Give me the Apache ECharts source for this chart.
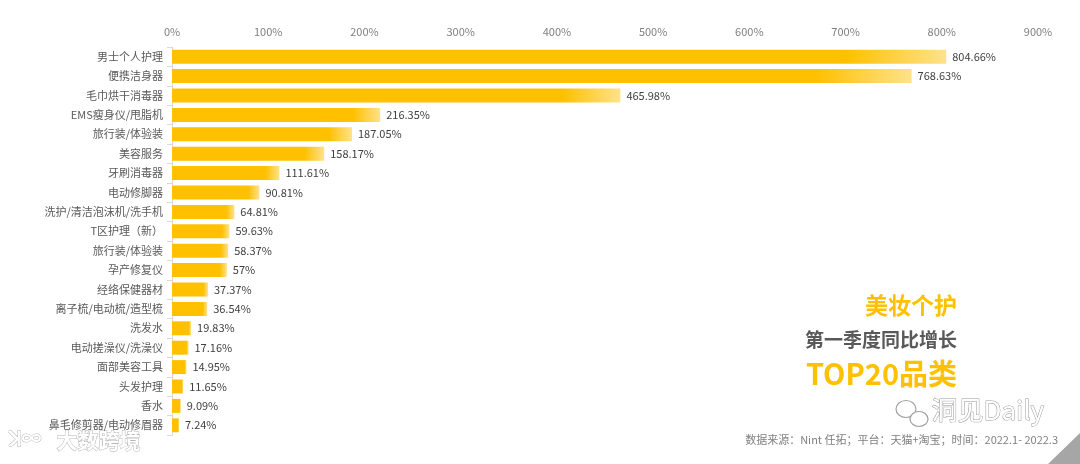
<!DOCTYPE html>
<html><head><meta charset="utf-8">
<script src="https://cdn.jsdelivr.net/npm/echarts@6/dist/echarts.min.js"></script>
<style>html,body{margin:0;padding:0;background:#fff}#c{width:1080px;height:464px}</style>
</head><body><div id="c"></div>
<script>
const categories = ["男士个人护理","便携洁身器","毛巾烘干消毒器","EMS瘦身仪/甩脂机","旅行装/体验装","美容服务","牙刷消毒器","电动修脚器","洗护/清洁泡沫机/洗手机","T区护理（新）","旅行装/体验装","孕产修复仪","经络保健器材","离子梳/电动梳/造型梳","洗发水","电动搓澡仪/洗澡仪","面部美容工具","头发护理","香水","鼻毛修剪器/电动修眉器"];
const values = [804.66,768.63,465.98,216.35,187.05,158.17,111.61,90.81,64.81,59.63,58.37,57,37.37,36.54,19.83,17.16,14.95,11.65,9.09,7.24];
const xTicks = [0,100,200,300,400,500,600,700,800,900];

const chart = echarts.init(document.getElementById('c'));
const FONT = '"Noto Sans CJK SC","Noto Sans",sans-serif';
const grad = new echarts.graphic.LinearGradient(0,0,1,0,[
  {offset:0,color:'#FFC000'},{offset:0.87,color:'#FFC000'},{offset:1,color:'#FFE28A'}]);
chart.setOption({
  animation:false,
  textStyle:{fontFamily:FONT},
  grid:{left:172,right:42,top:47,bottom:29,containLabel:false},
  xAxis:{type:'value',position:'top',min:xTicks[0],max:xTicks[xTicks.length-1],interval:100,
    axisLine:{show:false},axisTick:{show:false},splitLine:{show:false},
    axisLabel:{formatter:'{value}%',color:'#7F7F7F',fontSize:11,margin:10,fontFamily:FONT}},
  yAxis:{type:'category',data:categories,inverse:true,
    axisLine:{show:true,lineStyle:{color:'#D9D9D9'}},
    axisTick:{show:true,length:5,lineStyle:{color:'#D9D9D9'}},
    axisLabel:{color:'#595959',fontSize:11,margin:9,fontFamily:FONT}},
  series:[{type:'bar',data:values,barCategoryGap:'28%',
    itemStyle:{color:grad},
    label:{show:true,position:'right',distance:6,formatter:p=>p.value+'%',color:'#404040',fontSize:11,fontFamily:FONT}}],
  graphic:[
    {type:'text',right:123,top:294,style:{text:'美妆个护',fill:'#FFC000',font:'bold 23px '+FONT,textAlign:'right'}},
    {type:'text',right:123,top:330,style:{text:'第一季度同比增长',fill:'#595959',font:'bold 19px '+FONT,textAlign:'right'}},
    {type:'text',right:123,top:359,style:{text:'TOP20品类',fill:'#FFC000',font:'bold 29px '+FONT,textAlign:'right'}},
    {type:'text',left:931,top:397,style:{text:'洞见Daily',fill:'#ffffff',stroke:'#9A9A9A',lineWidth:1,font:'26px '+FONT}},
    {type:'ellipse',shape:{cx:906,cy:409,rx:10,ry:8.5},style:{fill:'#fff',stroke:'#A0A0A0',lineWidth:1.2}},
    {type:'ellipse',shape:{cx:919,cy:419,rx:9,ry:7.5},style:{fill:'#fff',stroke:'#A0A0A0',lineWidth:1.2}},
    {type:'text',right:22,top:434,style:{text:'数据来源：Nint 任拓；平台：天猫+淘宝；时间：2022.1- 2022.3',fill:'#808080',font:'11px '+FONT,textAlign:'right'}},
    {type:'polygon',shape:{points:[[1048,464],[1080,464],[1080,433]]},style:{fill:'#A6A6A6'}},
    {type:'text',left:56,top:429,style:{text:'大数跨境',fill:'#ffffff',stroke:'#B5B5B5',lineWidth:1,font:'bold 21px '+FONT}},
    {type:'text',left:8,top:428,style:{text:'ꓘ∞',fill:'#ffffff',stroke:'#B5B5B5',lineWidth:1,font:'bold 20px '+FONT}}
  ]
});
</script></body></html>
